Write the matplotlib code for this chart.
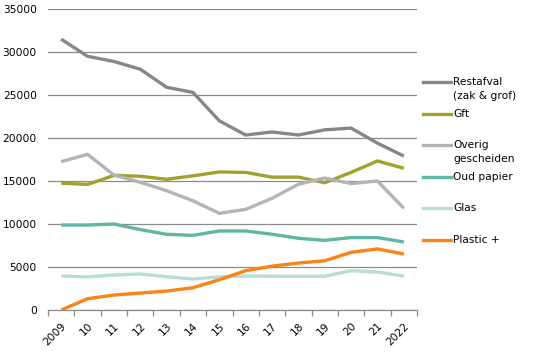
import matplotlib
matplotlib.use("Agg")
import matplotlib.pyplot as plt
from matplotlib.lines import Line2D

years = ["2009", "10", "11", "12", "13", "14", "15", "16", "17", "18", "19", "20", "21", "2022"]

restafval = [31500, 29500, 28900, 28000, 25900, 25300, 22000, 20350, 20700, 20350, 20950, 21150, 19400, 17900]
gft = [14750, 14600, 15650, 15550, 15200, 15600, 16050, 16000, 15450, 15450, 14800, 16000, 17330, 16480]
overig = [17250, 18100, 15700, 14850, 13870, 12700, 11240, 11700, 12990, 14620, 15350, 14700, 15000, 11820]
oud_papier = [9880, 9880, 10000, 9350, 8800, 8680, 9190, 9190, 8810, 8340, 8100, 8420, 8420, 7910]
glas = [3950, 3850, 4070, 4190, 3870, 3600, 3850, 3950, 3920, 3920, 3920, 4570, 4420, 3950]
plastic = [0, 1310, 1740, 1970, 2200, 2590, 3520, 4570, 5100, 5460, 5730, 6700, 7100, 6510]

series = [
    ("Restafval\n(zak & grof)", restafval, "#878787"),
    ("Gft", gft, "#a1a12c"),
    ("Overig\ngescheiden", overig, "#b4b4b4"),
    ("Oud papier", oud_papier, "#5eb6a3"),
    ("Glas", glas, "#b7ddd4"),
    ("Plastic +", plastic, "#fa8416"),
]

W, H = 536, 356
fig = plt.figure(figsize=(W / 100, H / 100), dpi=100)
ax = fig.add_axes([48 / W, 1 - 310 / H, (417 - 48) / W, (310 - 9) / H])

x = list(range(len(years)))
for name, vals, col in series:
    ax.plot(x, vals, color=col, linewidth=2.4, solid_capstyle="butt")

ax.set_xlim(-0.5, len(years) - 0.5)
ax.set_ylim(0, 35000)
ax.set_yticks(range(0, 35001, 5000))
ax.yaxis.grid(True, color="#8c8c8c", linewidth=0.9)
ax.set_axisbelow(True)
ax.tick_params(axis="y", length=0, pad=8, labelsize=7.7, labelcolor="black")
for s in ["left", "right", "top"]:
    ax.spines[s].set_visible(False)
ax.spines["bottom"].set_color("#8c8c8c")
ax.spines["bottom"].set_linewidth(0.9)

# labels on category centres, tick marks on boundaries
ax.set_xticks(x)
ax.set_xticklabels(years, rotation=45, ha="right", rotation_mode="anchor", fontsize=7.7)
ax.tick_params(axis="x", which="major", length=0, pad=8)
ax.set_xticks([i - 0.5 for i in range(len(years) + 1)], minor=True)
ax.tick_params(axis="x", which="minor", length=4, color="#8c8c8c", width=0.9)

# legend drawn by hand so the line sits level with the first text line
y0 = 82
step = 31.6
for i, (name, vals, col) in enumerate(series):
    yy = 1 - (y0 + i * step) / H
    fig.add_artist(Line2D([423 / W, 451 / W], [yy, yy], color=col, linewidth=2.4,
                          transform=fig.transFigure))
    fig.text(453 / W, yy + 5 / H, name, fontsize=7.7, va="top", ha="left",
             linespacing=1.45)

fig.savefig("out.png", dpi=100)
